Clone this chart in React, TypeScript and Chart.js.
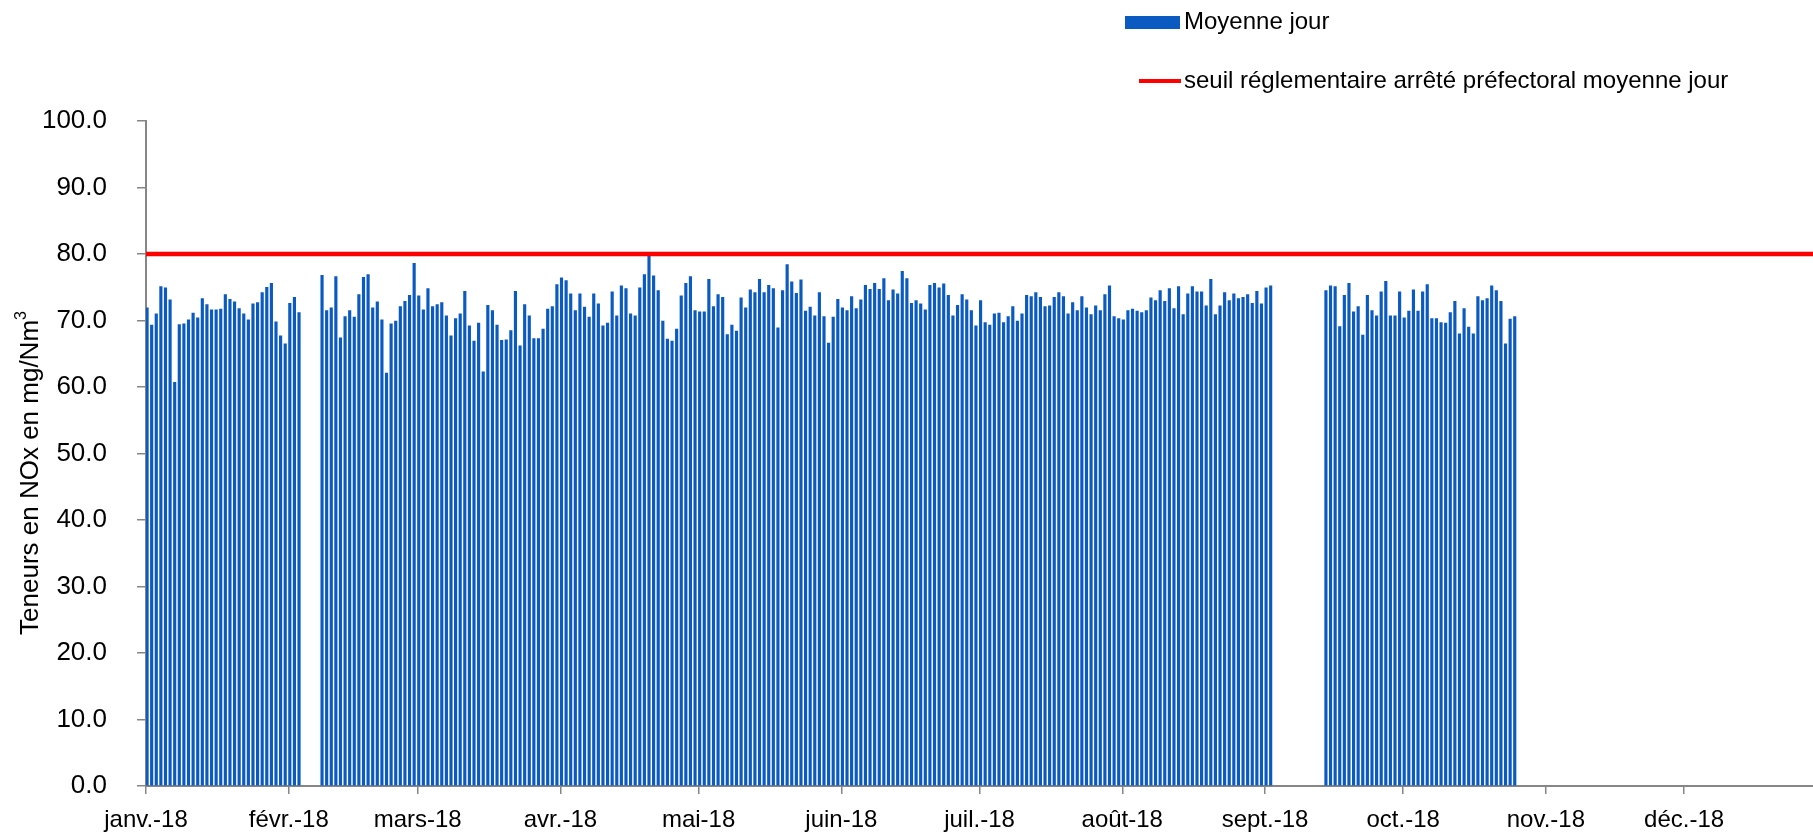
import React, { useEffect, useRef } from "react";
import { Chart, registerables } from "chart.js";

Chart.register(...registerables);

// ---- Data ----
const monthLabels = ["janv.-18", "févr.-18", "mars-18", "avr.-18", "mai-18", "juin-18", "juil.-18", "août-18", "sept.-18", "oct.-18", "nov.-18", "déc.-18"];
const monthStartDays = [0, 31, 59, 90, 120, 151, 181, 212, 243, 273, 304, 334];
const yTickValues = [0, 10, 20, 30, 40, 50, 60, 70, 80, 90, 100];

const janValues = [71.9, 69.3, 71.0, 75.1, 74.9, 73.1, 60.7, 69.4, 69.5, 70.1, 71.1, 70.4, 73.3, 72.4, 71.6, 71.6, 71.7, 73.9, 73.2, 72.8, 71.8, 71.0, 70.1, 72.5, 72.7, 74.2, 75.0, 75.6, 69.8, 67.7, 66.5];
const febValues = [72.6, 73.5, 71.2, null, null, null, null, 76.8, 71.5, 71.9, 76.6, 67.4, 70.6, 71.5, 70.5, 73.9, 76.5, 76.9, 71.9, 72.8, 70.1, 62.1, 69.5, 69.9, 72.1, 72.9, 73.8, 78.6];
const marValues = [73.7, 71.6, 74.8, 72.1, 72.4, 72.7, 70.7, 67.7, 70.3, 71.0, 74.4, 69.2, 66.9, 69.6, 62.3, 72.3, 71.5, 69.3, 67.0, 67.1, 68.5, 74.4, 66.2, 72.4, 70.7, 67.3, 67.3, 68.7, 71.7, 72.1, 75.4];
const aprValues = [76.4, 76.0, 74.0, 71.5, 74.0, 72.0, 70.5, 74.0, 72.5, 69.2, 69.6, 74.3, 70.7, 75.2, 74.8, 71.0, 70.7, 74.9, 76.9, 79.7, 76.7, 74.5, 69.9, 67.2, 66.9, 68.7, 73.7, 75.6, 76.6, 71.5];
const mayValues = [71.3, 71.3, 76.2, 72.1, 73.9, 73.5, 67.9, 69.3, 68.4, 73.4, 71.9, 74.6, 74.2, 76.2, 74.2, 75.3, 74.8, 68.9, 74.5, 78.4, 75.8, 74.1, 76.1, 71.4, 72.0, 70.7, 74.2, 70.6, 66.6, 70.5, 73.2];
const junValues = [71.9, 71.5, 73.6, 71.8, 73.1, 75.3, 74.7, 75.6, 74.7, 76.3, 73.0, 74.6, 74.0, 77.4, 76.3, 72.6, 73.0, 72.5, 71.6, 75.3, 75.6, 74.9, 75.5, 73.8, 70.7, 72.3, 73.9, 73.1, 71.5, 69.2];
const julValues = [73.0, 69.7, 69.3, 71.0, 71.1, 69.7, 70.6, 72.1, 69.9, 71.0, 73.8, 73.6, 74.2, 73.5, 72.1, 72.2, 73.5, 74.2, 73.6, 71.0, 72.7, 71.5, 73.6, 71.9, 70.9, 72.2, 71.5, 73.9, 75.2, 70.6, 70.3];
const augValues = [70.1, 71.5, 71.7, 71.4, 71.2, 71.5, 73.4, 73.0, 74.5, 72.9, 74.8, 71.8, 75.1, 70.9, 74.0, 75.1, 74.3, 74.3, 72.2, 76.2, 70.9, 72.2, 74.2, 73.0, 74.0, 73.3, 73.5, 73.9, 72.6, 74.4, 72.5];
const sepValues = [74.9, 75.2, null, null, null, null, null, null, null, null, null, null, null, 74.5, 75.2, 75.1, 69.1, 73.8, 75.6, 71.3, 72.1, 67.8, 73.8, 71.5, 70.7, 74.3, 75.9, 70.7, 70.7, 74.3];
const octValues = [70.4, 71.4, 74.6, 71.4, 74.3, 75.4, 70.3, 70.3, 69.7, 69.6, 71.2, 72.9, 68.0, 71.8, 69.0, 68.0, 73.6, 73.0, 73.3, 75.2, 74.5, 72.9, 66.5, 70.2, 70.6];
const novValues: (number | null)[] = [];
const decValues: (number | null)[] = [];

const thresholdValue = 80;

const seriesLabel = "Moyenne jour";
const thresholdLabel = "seuil réglementaire arrêté préfectoral moyenne jour";
const yTitleMain = "Teneurs en NOx en mg/Nm";
const yTitleSup = "3";

// ---- Build datasets ----
const monthValues = [janValues, febValues, marValues, aprValues, mayValues, junValues, julValues, augValues, sepValues, octValues, novValues, decValues];
const BAR_OFFSET = 0.23;
const X_MAX = 362;

const barPoints: { x: number; y: number }[] = [];
monthValues.forEach((vals, m) => {
  vals.forEach((v, d) => {
    if (v !== null && v !== undefined) barPoints.push({ x: monthStartDays[m] + d + BAR_OFFSET, y: v });
  });
});

const FONT = "'Liberation Sans', Arial, sans-serif";
const BLUE = "#0A5AC2";
const RED = "#FF0000";
const AXIS = "#868686";

const overlayPlugin = {
  id: "overlay",
  afterDraw(chart: any) {
    const ctx = chart.ctx as CanvasRenderingContext2D;
    ctx.save();
    // legend
    ctx.fillStyle = BLUE;
    ctx.fillRect(1125, 16, 55, 13);
    ctx.strokeStyle = RED;
    ctx.lineWidth = 4;
    ctx.beginPath();
    ctx.moveTo(1139, 81);
    ctx.lineTo(1181, 81);
    ctx.stroke();
    ctx.fillStyle = "#000";
    ctx.font = `24px ${FONT}`;
    ctx.textBaseline = "middle";
    ctx.textAlign = "left";
    ctx.fillText(seriesLabel, 1184, 22);
    ctx.fillText(thresholdLabel, 1184, 81);

    // y title
    ctx.translate(31, 473);
    ctx.rotate(-Math.PI / 2);
    ctx.font = `26px ${FONT}`;
    const w1 = ctx.measureText(yTitleMain).width;
    ctx.font = `16px ${FONT}`;
    const w2 = ctx.measureText(yTitleSup).width;
    const start = -(w1 + w2) / 2;
    ctx.font = `26px ${FONT}`;
    ctx.fillText(yTitleMain, start, 0);
    ctx.font = `16px ${FONT}`;
    ctx.fillText(yTitleSup, start + w1, -9);
    ctx.restore();
  },
};

export default function App() {
  const ref = useRef<HTMLCanvasElement | null>(null);

  useEffect(() => {
    document.body.style.margin = "0";
    const canvas = ref.current;
    if (!canvas) return;
    const chart = new Chart(canvas, {
      type: "bar",
      data: {
        datasets: [
          {
            type: "line",
            label: thresholdLabel,
            data: [
              { x: 0, y: thresholdValue },
              { x: X_MAX, y: thresholdValue },
            ],
            borderColor: RED,
            backgroundColor: RED,
            borderWidth: 4.5,
            pointRadius: 0,
            order: 0,
          } as any,
          {
            type: "bar",
            label: seriesLabel,
            data: barPoints,
            backgroundColor: BLUE,
            barThickness: 2.5,
            order: 1,
          } as any,
        ],
      },
      options: {
        animation: false,
        responsive: false,
        maintainAspectRatio: false,
        layout: { padding: { top: 121, left: 0, right: 0, bottom: 0 } },
        plugins: { legend: { display: false }, tooltip: { enabled: false } },
        scales: {
          x: {
            type: "linear",
            min: 0,
            max: X_MAX,
            offset: false,
            afterBuildTicks: (s: any) => {
              s.ticks = monthStartDays.map((v) => ({ value: v }));
            },
            afterFit: (s: any) => {
              s.height = 46;
            },
            ticks: {
              autoSkip: false,
              maxRotation: 0,
              minRotation: 0,
              padding: 12,
              color: "#000",
              font: { family: FONT, size: 24 },
              callback: (v: any) => {
                const i = monthStartDays.indexOf(Number(v));
                return i >= 0 ? monthLabels[i] : "";
              },
            },
            grid: { drawOnChartArea: false, drawTicks: true, tickLength: 8, color: AXIS, offset: false, lineWidth: 1.5 },
            border: { color: AXIS, width: 2 },
          },
          y: {
            min: 0,
            max: 100,
            afterBuildTicks: (s: any) => {
              s.ticks = yTickValues.map((v) => ({ value: v }));
            },
            afterFit: (s: any) => {
              s.width = 146;
            },
            ticks: {
              padding: 30,
              color: "#000",
              font: { family: FONT, size: 26 },
              callback: (v: any) => Number(v).toFixed(1),
            },
            grid: { drawOnChartArea: false, drawTicks: true, tickLength: 9, color: AXIS, lineWidth: 1.5 },
            border: { color: AXIS, width: 2 },
          },
        },
      } as any,
      plugins: [overlayPlugin],
    });
    return () => chart.destroy();
  }, []);

  return (
    <div style={{ width: 1813, height: 832, overflow: "hidden", background: "#fff" }}>
      <canvas ref={ref} width={1813} height={832} style={{ display: "block" }} />
    </div>
  );
}
